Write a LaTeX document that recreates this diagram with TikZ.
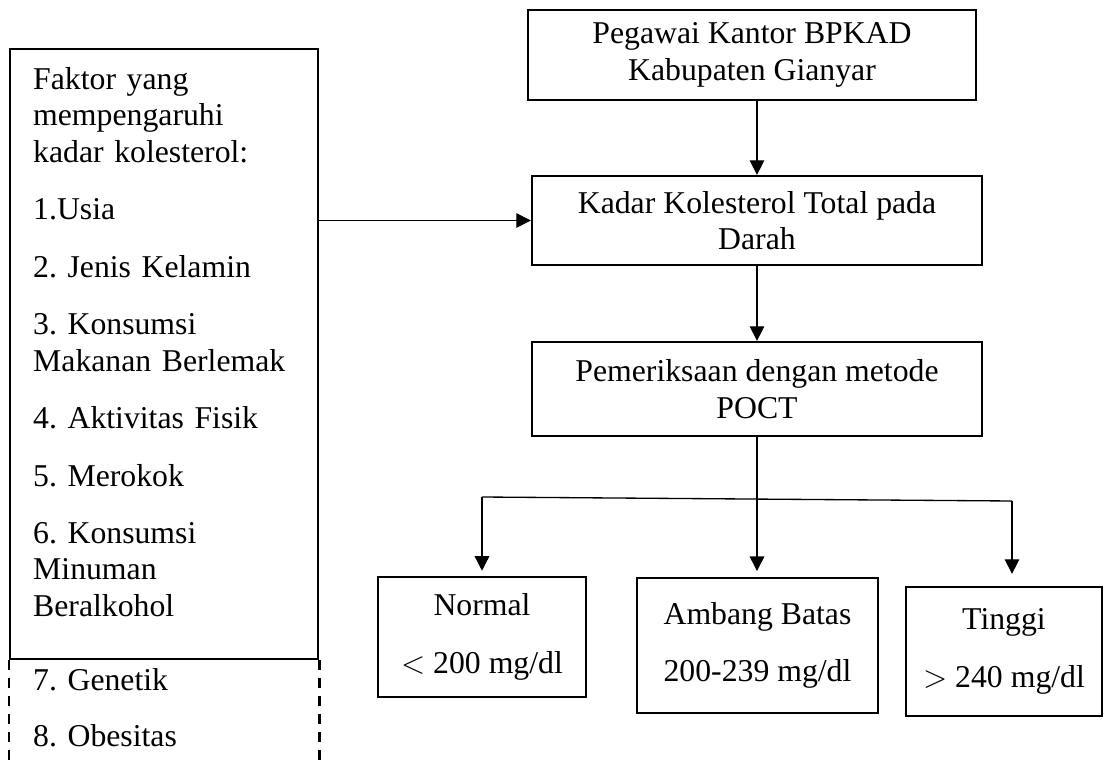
\documentclass[tikz,border=0pt]{standalone}
\usepackage{fontspec}
\setmainfont{Liberation Serif}
\usetikzlibrary{arrows.meta,positioning}
\frenchspacing
\tikzset{
  kotak/.style={draw, line width=0.9pt, align=center, inner sep=0pt},
  daftar/.style={line width=0.9pt, text width=99pt, align=left, inner xsep=8.7pt},
  panah/.style={-{Triangle[length=5.5pt,width=5.5pt]}, line width=0.5pt},
  putus/.style={line width=0.9pt, dash pattern=on 3.6pt off 3.2pt},
}
\begin{document}
\begin{tikzpicture}[x=0.378pt, y=-0.378pt, font=\fontsize{12pt}{13.8pt}\selectfont]
      \clip (0,0) rectangle (1104,760);
      \path
        (9,48) node[daftar, draw, anchor=north west, inner ysep=6.9pt] (faktor){Faktor yang\\
          mempengaruhi\\
          kadar kolesterol:\\[7.9pt]
          1.Usia\\[7.9pt]
          2. Jenis Kelamin\\[7.9pt]
          3. Konsumsi\\
          Makanan Berlemak\\[7.9pt]
          4. Aktivitas Fisik\\[7.9pt]
          5. Merokok\\[7.9pt]
          6. Konsumsi\\
          Minuman\\
          Beralkohol\rule[-9.2pt]{0pt}{0pt}}
        (752,55) node[kotak, minimum width=169.3pt, minimum height=34pt] (pegawai){Pegawai Kantor BPKAD\\Kabupaten Gianyar}
        (757,220.5) node[kotak, minimum width=170.1pt, minimum height=33.6pt] (kadar){Kadar Kolesterol Total pada\\Darah}
        (757,389) node[kotak, minimum width=170.1pt, minimum height=35.5pt] (poct){Pemeriksaan dengan metode\\POCT}
        (482,637) node[kotak, minimum width=78.6pt, minimum height=45.4pt] (normal){Normal\\[7.9pt]$<$ 200 mg/dl}
        (757.5,645.5) node[kotak, minimum width=91.1pt, minimum height=51pt] (ambang){Ambang Batas\\[7.9pt]200-239 mg/dl}
        (1004,651.5) node[kotak, minimum width=74.1pt, minimum height=48.8pt] (tinggi){Tinggi\\[7.9pt]$>$ 240 mg/dl};
      \node[daftar, below right=0pt and 0pt of faktor.south west, inner ysep=2.8pt] (genetik){7. Genetik\\[7.4pt]8. Obesitas};
      \coordinate (cabangkiri) at (482,497);
      \coordinate (cabangkanan) at (1012,501);
      \draw[putus] (genetik.north west) -- ++(0,140);
      \draw[putus] (genetik.north east) -- ++(0,140);
      \draw[line width=0.5pt] (cabangkiri) -- (cabangkanan);
      \begin{scope}[panah]
        \draw (kadar.north |- pegawai.south) to (kadar.north);
        \draw (faktor.east |- kadar.west) to (kadar.west);
        \draw (kadar) to (poct);
        \draw[shorten >=2.2pt] (poct) to (poct.south |- ambang.north);
        \draw[shorten >=1.9pt] (cabangkiri) to (cabangkiri |- normal.north);
        \draw[shorten >=4.5pt] (cabangkanan) to (cabangkanan |- tinggi.north);
      \end{scope}
    \end{tikzpicture}
\end{document}
